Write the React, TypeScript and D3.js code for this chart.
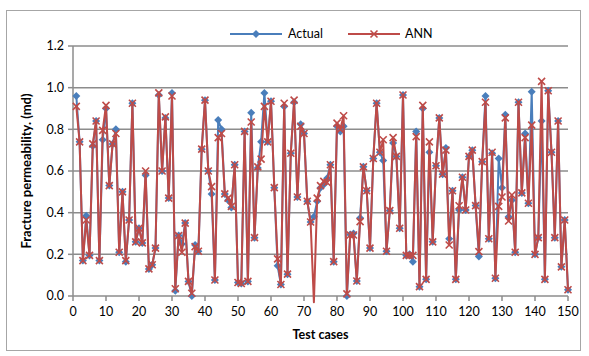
import React from "react";
import * as d3 from "d3";

// Test case values (cases 1..150)
const actual = [
  0.96, 0.74, 0.17, 0.385, 0.195, 0.72, 0.84, 0.17, 0.75, 0.9,
  0.53, 0.73, 0.8, 0.21, 0.5, 0.165, 0.365, 0.925, 0.26, 0.325,
  0.255, 0.58, 0.13, 0.15, 0.23, 0.965, 0.6, 0.855, 0.47, 0.975,
  0.025, 0.29, 0.25, 0.35, 0.07, 0.0, 0.245, 0.215, 0.705, 0.94,
  0.6, 0.49, 0.077, 0.845, 0.8, 0.49, 0.46, 0.425, 0.63, 0.065,
  0.06, 0.79, 0.07, 0.88, 0.28, 0.615, 0.74, 0.975, 0.74, 0.935,
  0.52, 0.145, 0.055, 0.91, 0.105, 0.685, 0.93, 0.475, 0.825, 0.78,
  0.455, 0.355, 0.38, 0.455, 0.52, 0.535, 0.565, 0.63, 0.165, 0.815,
  0.79, 0.815, 0.0, 0.295, 0.3, 0.072, 0.375, 0.62, 0.505, 0.23,
  0.66, 0.925, 0.69, 0.65, 0.215, 0.41, 0.735, 0.67, 0.325, 0.965,
  0.195, 0.2, 0.165, 0.79, 0.045, 0.9, 0.08, 0.69, 0.26, 0.625,
  0.855, 0.585, 0.71, 0.275, 0.505, 0.08, 0.413, 0.57, 0.413, 0.67,
  0.7, 0.434, 0.19, 0.645, 0.96, 0.275, 0.685, 0.085, 0.66, 0.52,
  0.87, 0.38, 0.46, 0.21, 0.93, 0.495, 0.78, 0.445, 0.98, 0.2,
  0.28, 0.84, 0.08, 0.985, 0.69, 0.28, 0.84, 0.14, 0.365, 0.03,
];

const ann = [
  0.91, 0.74, 0.17, 0.365, 0.195, 0.73, 0.84, 0.17, 0.795, 0.915,
  0.53, 0.73, 0.78, 0.21, 0.5, 0.17, 0.365, 0.925, 0.26, 0.325,
  0.255, 0.6, 0.13, 0.15, 0.23, 0.975, 0.6, 0.86, 0.47, 0.96,
  0.035, 0.29, 0.21, 0.35, 0.07, 0.013, 0.237, 0.215, 0.705, 0.94,
  0.6, 0.525, 0.077, 0.76, 0.78, 0.49, 0.47, 0.43, 0.63, 0.065,
  0.06, 0.79, 0.07, 0.835, 0.28, 0.62, 0.657, 0.91, 0.74, 0.935,
  0.52, 0.178, 0.055, 0.925, 0.105, 0.685, 0.94, 0.475, 0.815, 0.78,
  0.455, 0.355, -0.03, 0.47, 0.53, 0.55, 0.545, 0.63, 0.165, 0.83,
  0.8, 0.865, 0.01, 0.293, 0.293, 0.072, 0.357, 0.62, 0.505, 0.23,
  0.66, 0.925, 0.69, 0.75, 0.215, 0.41, 0.76, 0.67, 0.325, 0.965,
  0.195, 0.195, 0.195, 0.765, 0.045, 0.915, 0.08, 0.74, 0.26, 0.625,
  0.855, 0.585, 0.7, 0.245, 0.505, 0.08, 0.433, 0.57, 0.413, 0.67,
  0.7, 0.434, 0.213, 0.645, 0.93, 0.275, 0.69, 0.085, 0.43, 0.475,
  0.855, 0.36, 0.485, 0.21, 0.93, 0.495, 0.76, 0.445, 0.82, 0.2,
  0.28, 1.03, 0.08, 0.985, 0.69, 0.28, 0.84, 0.14, 0.365, 0.03,
];

const xTicks = d3.range(0, 151, 10);
const yTicks = [0, 0.2, 0.4, 0.6, 0.8, 1.0, 1.2];

const BLUE = "#4a7ebb";
const RED = "#be4b48";
const GRID = "#8c8c8c";
const FONT = "Lato, 'Open Sans', sans-serif";

const width = 589;
const height = 356;
const margin = { top: 46, right: 21, bottom: 60, left: 73 };

const App = () => {
  const x = d3.scaleLinear().domain([0, 150]).range([margin.left, width - margin.right]);
  const y = d3.scaleLinear().domain([0, 1.2]).range([height - margin.bottom, margin.top]);

  const line = d3
    .line<number>()
    .x((_, i) => x(i + 1))
    .y((d) => y(d));

  const diamond = (cx: number, cy: number) =>
    `M${cx},${cy - 4}L${cx + 4},${cy}L${cx},${cy + 4}L${cx - 4},${cy}Z`;
  const cross = (cx: number, cy: number) =>
    `M${cx - 3.5},${cy - 3.5}L${cx + 3.5},${cy + 3.5}M${cx - 3.5},${cy + 3.5}L${cx + 3.5},${cy - 3.5}`;

  const x0 = x(0);
  const yBase = y(0);

  return (
    <svg
      width={width}
      height={height}
      style={{ position: "absolute", left: 0, top: 0, background: "#fff" }}
      fontFamily={FONT}
    >
      <rect x={6.5} y={10.5} width={574} height={340} fill="#fff" stroke="#a6a6a6" />

      {/* gridlines */}
      {yTicks.slice(1).map((t) => (
        <line key={t} x1={x0} x2={x(150)} y1={y(t)} y2={y(t)} stroke={GRID} strokeWidth={1.5} />
      ))}

      {/* axes */}
      <line x1={x0} x2={x0} y1={y(1.2)} y2={yBase} stroke={GRID} strokeWidth={1.5} />
      <line x1={x0} x2={x(150)} y1={yBase} y2={yBase} stroke={GRID} strokeWidth={1.5} />
      {yTicks.map((t) => (
        <g key={t}>
          <line x1={x0 - 5} x2={x0} y1={y(t)} y2={y(t)} stroke={GRID} strokeWidth={1.5} />
          <text x={x0 - 9} y={y(t)} dy="0.35em" textAnchor="end" fontSize={12.5} fill="#000">
            {t.toFixed(1)}
          </text>
        </g>
      ))}
      {xTicks.map((t) => (
        <g key={t}>
          <line x1={x(t)} x2={x(t)} y1={yBase} y2={yBase + 5} stroke={GRID} strokeWidth={1.5} />
          <text x={x(t)} y={yBase + 20} textAnchor="middle" fontSize={12.5} fill="#000">
            {t}
          </text>
        </g>
      ))}

      <text x={x(75)} y={339} textAnchor="middle" fontSize={12.5} fontWeight="bold">
        Test cases
      </text>
      <text
        transform={`translate(31,${y(0.6)}) rotate(-90)`}
        textAnchor="middle"
        fontSize={13}
        fontWeight="bold"
      >
        Fracture permeability. (md)
      </text>

      {/* series */}
      <path d={line(actual) ?? ""} fill="none" stroke={BLUE} strokeWidth={2} strokeLinejoin="round" />
      {actual.map((d, i) => (
        <path key={i} d={diamond(x(i + 1), y(d))} fill={BLUE} />
      ))}
      <path d={line(ann) ?? ""} fill="none" stroke={RED} strokeWidth={2} strokeLinejoin="round" />
      {ann.map((d, i) =>
        d < 0 ? null : (
          <path key={i} d={cross(x(i + 1), y(d))} stroke={RED} strokeWidth={1.6} fill="none" />
        )
      )}

      {/* legend */}
      <g>
        <line x1={230} x2={282} y1={34} y2={34} stroke={BLUE} strokeWidth={2} />
        <path d={diamond(256, 34)} fill={BLUE} />
        <text x={288} y={34} dy="0.35em" fontSize={12.5}>
          Actual
        </text>
        <line x1={348} x2={400} y1={34} y2={34} stroke={RED} strokeWidth={2} />
        <path d={cross(374, 34)} stroke={RED} strokeWidth={1.6} fill="none" />
        <text x={405} y={34} dy="0.35em" fontSize={12.5}>
          ANN
        </text>
      </g>
    </svg>
  );
};

export default App;
